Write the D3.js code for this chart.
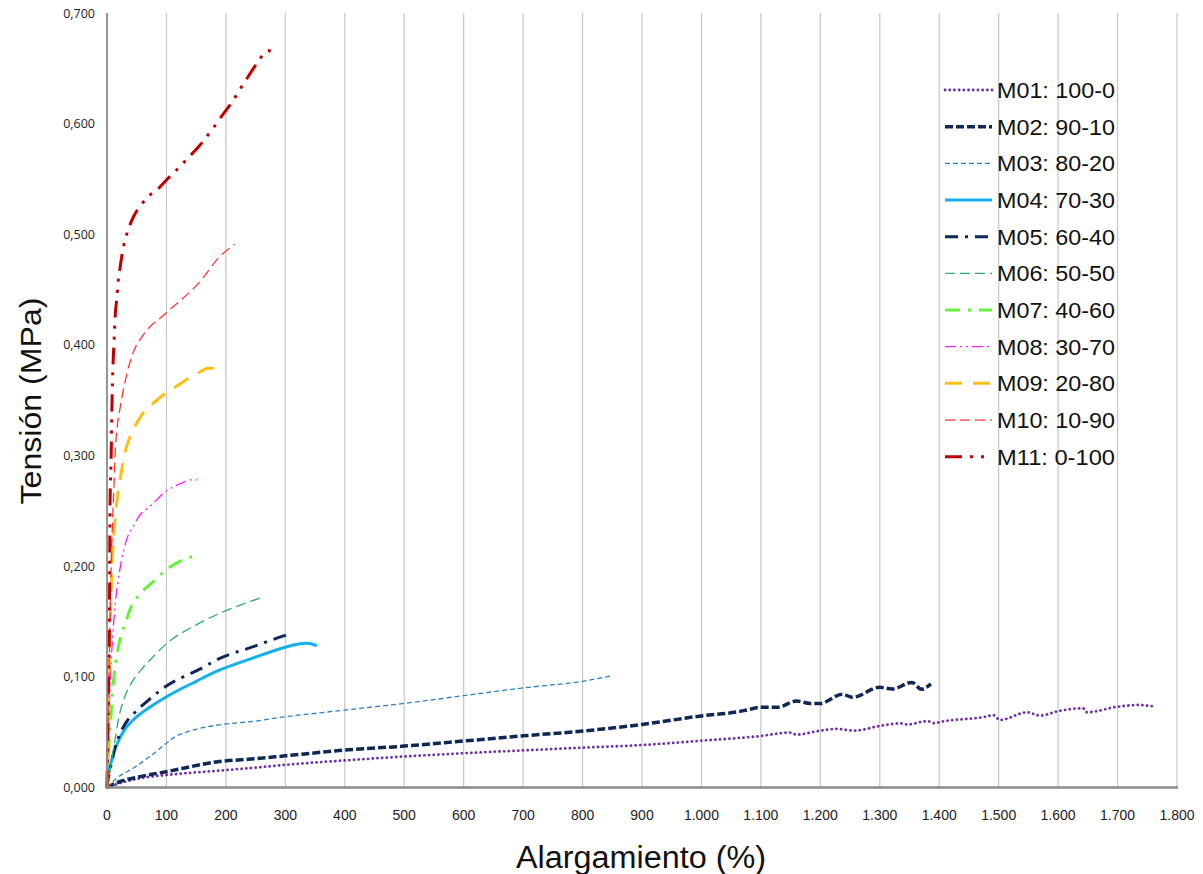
<!DOCTYPE html>
<html><head><meta charset="utf-8">
<script src="https://cdn.jsdelivr.net/npm/d3@7"></script>
<style>html,body{margin:0;padding:0;background:#fff;}</style>
</head><body>
<svg id="chart" width="1203" height="874"></svg>
<script>
// ---- data ----
const xTicks = [0,100,200,300,400,500,600,700,800,900,1000,1100,1200,1300,1400,1500,1600,1700,1800];
const xTickLabels = ["0","100","200","300","400","500","600","700","800","900","1.000","1.100","1.200","1.300","1.400","1.500","1.600","1.700","1.800"];
const yTicks = [0,0.1,0.2,0.3,0.4,0.5,0.6,0.7];
const yTickLabels = ["0,000","0,100","0,200","0,300","0,400","0,500","0,600","0,700"];
const seriesNames = ["M01: 100-0","M02: 90-10","M03: 80-20","M04: 70-30","M05: 60-40","M06: 50-50","M07: 40-60","M08: 30-70","M09: 20-80","M10: 10-90","M11: 0-100"];

const m01 = [[0,0],[25,0.0045],[55,0.0083],[100,0.0113],[187,0.0152],[250,0.018],[300,0.0205],[400,0.0245],[500,0.028],[600,0.031],[700,0.0335],[800,0.036],[900,0.0384],[1000,0.0423],[1100,0.0466],[1148,0.0496],[1160,0.0478],[1200,0.0514],[1228,0.053],[1257,0.0514],[1300,0.0556],[1335,0.058],[1347,0.057],[1380,0.060],[1393,0.058],[1400,0.059],[1478,0.064],[1491,0.0655],[1502,0.061],[1548,0.068],[1570,0.065],[1600,0.069],[1642,0.0716],[1648,0.068],[1700,0.073],[1735,0.0746],[1764,0.073]];
const m02 = [[0,0],[21,0.0052],[55,0.0098],[100,0.0143],[187,0.0233],[250,0.026],[300,0.0286],[400,0.0338],[500,0.0374],[600,0.042],[700,0.0467],[800,0.051],[900,0.057],[1000,0.0647],[1063,0.0686],[1076,0.070],[1100,0.0725],[1128,0.0725],[1160,0.0782],[1183,0.076],[1200,0.076],[1237,0.0843],[1254,0.0815],[1300,0.0906],[1321,0.089],[1354,0.095],[1370,0.0888],[1386,0.0936]];
const m03 = [[0,0],[16,0.0083],[44,0.0174],[72,0.028],[100,0.040],[115,0.046],[128,0.049],[156,0.0535],[187,0.0565],[250,0.060],[300,0.064],[350,0.067],[400,0.070],[500,0.076],[600,0.083],[700,0.090],[800,0.096],[850,0.101]];
const m04 = [[0,0],[1,0.007],[3,0.014],[6,0.021],[9.5,0.028],[16,0.038],[27.5,0.0505],[44,0.061],[72,0.0725],[100,0.082],[150,0.096],[187,0.1056],[240,0.116],[300,0.1268],[320,0.1295],[336,0.1304],[346,0.1295],[353,0.128]];
const m05 = [[0,0],[2,0.008],[5,0.016],[8,0.023],[13.5,0.036],[21,0.0475],[33,0.0595],[50,0.0695],[72,0.080],[100,0.0918],[128,0.0999],[156,0.107],[187,0.116],[250,0.128],[297,0.137],[312,0.1394]];
const m06 = [[0,0],[4,0.01],[8,0.025],[13.5,0.043],[19,0.061],[30,0.082],[44,0.097],[60,0.108],[72,0.115],[100,0.130],[150,0.147],[190,0.1575],[230,0.166],[262,0.172]];
const m07 = [[0,0],[2,0.025],[4,0.045],[6,0.06],[9.5,0.088],[13.5,0.109],[19,0.127],[25,0.14],[30,0.147],[38,0.16],[45,0.168],[55,0.174],[61,0.178],[78,0.186],[100,0.197],[125,0.205],[140,0.208],[152,0.21]];
const m08 = [[0,0],[2,0.04],[5,0.09],[10,0.14],[14.6,0.17],[19,0.188],[24.6,0.206],[33,0.224],[44,0.236],[55,0.246],[72,0.254],[100,0.268],[125,0.275],[140,0.278],[152,0.278]];
const m09 = [[0,0],[1,0.05],[3,0.1],[5,0.14],[7.8,0.194],[11.6,0.23],[15,0.251],[22,0.278],[30,0.302],[44,0.323],[60,0.338],[84,0.35],[100,0.357],[115,0.362],[135,0.369],[155,0.375],[170,0.379],[178,0.379],[183,0.377]];
const m10 = [[0,0],[2,0.06],[4,0.12],[6,0.18],[9,0.235],[11.5,0.27],[13.5,0.3],[17,0.325],[22,0.343],[27,0.358],[33,0.373],[44,0.393],[61,0.409],[100,0.429],[156,0.457],[190,0.48],[215,0.491]];
const m11 = [[0,0],[1.5,0.05],[3,0.1],[4,0.15],[4.5,0.2],[5,0.25],[7,0.3],[8.5,0.35],[10,0.38],[12,0.405],[14,0.428],[16.5,0.442],[19,0.459],[22,0.47],[26,0.484],[30,0.494],[35,0.503],[42,0.513],[58,0.527],[69,0.534],[84,0.54],[98,0.548],[115,0.557],[131,0.566],[157,0.581],[180,0.597],[196,0.609],[207,0.617],[232,0.638],[254,0.656],[265,0.664],[271,0.666],[277,0.665]];
const seriesData = [m01,m02,m03,m04,m05,m06,m07,m08,m09,m10,m11];

// ---- styles ----
const styles = [
  {c:"#7030A0", w:2.8, d:"0.1,4.6", cap:"round"},
  {c:"#0F2757", w:3.5, d:"8,3"},
  {c:"#2E7FC7", w:1.3, d:"5,3"},
  {c:"#12B0EE", w:3, d:null},
  {c:"#0F2757", w:3, d:"13,7,3,7"},
  {c:"#2FAE68", w:1.3, d:"10,5"},
  {c:"#66F23A", w:3, d:"15,8,3,8"},
  {c:"#FF19FF", w:1.3, d:"11,4,2,4,2,4"},
  {c:"#FFBE14", w:3, d:"17,11"},
  {c:"#FF3535", w:1.3, d:"10,5"},
  {c:"#C00000", w:3, d:"17,8,3,8,3,8"}
];

const svg = d3.select("#chart");
svg.append("rect").attr("width",1203).attr("height",874).attr("fill","#fff");

const x = d3.scaleLinear().domain([0,1800]).range([107,1177]);
const y = d3.scaleLinear().domain([0,0.7]).range([787.5,13]);

// gridlines
svg.append("g").selectAll("line").data(xTicks.slice(1)).join("line")
  .attr("x1",d=>x(d)).attr("x2",d=>x(d)).attr("y1",y(0.7)).attr("y2",y(0))
  .attr("stroke","#C6C6C6").attr("stroke-width",1.2);

// x tick labels
svg.append("g").selectAll("text").data(xTicks).join("text")
  .attr("x",d=>x(d)).attr("y",820)
  .attr("text-anchor","middle")
  .attr("font-family","'Liberation Sans Narrow','Arial Narrow',sans-serif")
  .attr("font-size",14).attr("fill","#222")
  .text((d,i)=>xTickLabels[i]);

// y tick labels
svg.append("g").selectAll("text").data(yTicks).join("text")
  .attr("x",95).attr("y",d=>y(d)+4.5)
  .attr("text-anchor","end")
  .attr("font-family","'Open Sans',sans-serif")
  .attr("font-size",12.5).attr("fill","#222")
  .text((d,i)=>yTickLabels[i]);

// series
const line = d3.line().x(d=>x(d[0])).y(d=>y(d[1])).curve(d3.curveMonotoneX);
const gS = svg.append("g");
seriesData.forEach((s,i)=>{
  const st = styles[i];
  gS.append("path").attr("d",line(s)).attr("fill","none")
    .attr("stroke",st.c).attr("stroke-width",st.w)
    .attr("stroke-dasharray",st.d)
    .attr("stroke-linecap", st.cap || "butt")
    .attr("stroke-linejoin","round");
});

// axes lines
svg.append("line").attr("x1",x(0)).attr("x2",x(0)).attr("y1",y(0.7)).attr("y2",y(0))
  .attr("stroke","#8A8A8A").attr("stroke-width",1.8);
svg.append("line").attr("x1",x(0)-1).attr("x2",x(1800)+1).attr("y1",y(0)).attr("y2",y(0))
  .attr("stroke","#8A8A8A").attr("stroke-width",2.6);

// legend
const lg = svg.append("g");
seriesNames.forEach((n,i)=>{
  const yy = 90 + i*36.67;
  const st = styles[i];
  lg.append("line").attr("x1",945).attr("x2",992).attr("y1",yy).attr("y2",yy)
    .attr("stroke",st.c).attr("stroke-width",st.w).attr("stroke-dasharray",st.d)
    .attr("stroke-linecap", st.cap || "butt");
  lg.append("text").attr("x",997).attr("y",yy+8)
    .attr("font-family","'Liberation Sans',sans-serif").attr("font-size",22)
    .attr("fill","#111")
    .attr("textLength",118).attr("lengthAdjust","spacingAndGlyphs")
    .text(n);
});

// axis titles
svg.append("text").attr("x",641).attr("y",868).attr("text-anchor","middle")
  .attr("font-family","'Liberation Sans',sans-serif").attr("font-size",31).attr("fill","#111")
  .attr("textLength",250).attr("lengthAdjust","spacingAndGlyphs")
  .text("Alargamiento (%)");
svg.append("text").attr("transform","translate(41,401) rotate(-90)").attr("text-anchor","middle")
  .attr("font-family","'Liberation Sans',sans-serif").attr("font-size",29).attr("fill","#111")
  .attr("textLength",207).attr("lengthAdjust","spacingAndGlyphs")
  .text("Tensión (MPa)");
</script>
</body></html>
